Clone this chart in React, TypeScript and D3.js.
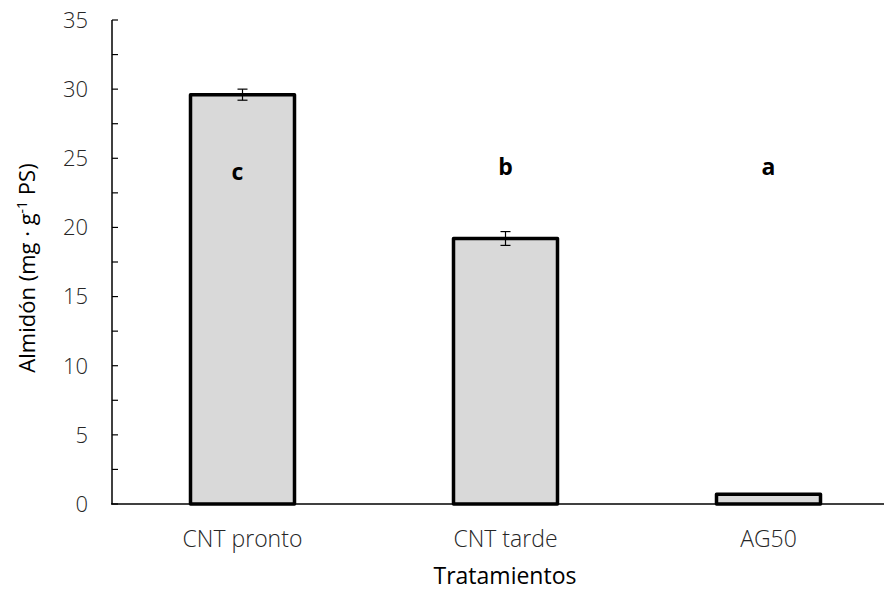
import { useEffect, useRef } from 'react'
import * as d3 from 'd3'

const categories = ['CNT pronto', 'CNT tarde', 'AG50']
const values = [29.6, 19.2, 0.7]
const errors = [0.4, 0.5, 0]
const letters = ['c', 'b', 'a']
const letterY = [24, 24.4, 24.4]
const yTicks = [0, 5, 10, 15, 20, 25, 30, 35]

export default function App() {
  const svgRef = useRef<SVGSVGElement>(null)

  useEffect(() => {
    if (!svgRef.current) return
    const svg = d3.select(svgRef.current)
    svg.selectAll('*').remove()

    const width = 884
    const height = 594
    const font = "'Open Sans', 'Noto Sans', sans-serif"

    const x = d3.scaleBand<string>().domain(categories).range([111, 900]).padding(0)
    const y = d3.scaleLinear().domain([0, 35]).range([504, 20])
    const barW = 104

    const g = svg.append('g')

    // bars
    g.selectAll('rect.bar')
      .data(values)
      .join('rect')
      .attr('class', 'bar')
      .attr('x', (d, i) => x(categories[i])! + x.bandwidth() / 2 - barW / 2)
      .attr('y', d => y(d))
      .attr('width', barW)
      .attr('height', d => y(0) - y(d))
      .attr('fill', '#d9d9d9')
      .attr('stroke', '#000')
      .attr('stroke-width', 3.5)
      .attr('stroke-linejoin', 'round')

    // error bars
    values.forEach((v, i) => {
      if (!errors[i]) return
      const cx = x(categories[i])! + x.bandwidth() / 2
      const e = g.append('g').attr('stroke', '#000').attr('stroke-width', 1.2)
      e.append('line').attr('x1', cx).attr('x2', cx).attr('y1', y(v + errors[i])).attr('y2', y(v - errors[i]))
      e.append('line').attr('x1', cx - 5).attr('x2', cx + 5).attr('y1', y(v + errors[i])).attr('y2', y(v + errors[i]))
      e.append('line').attr('x1', cx - 5).attr('x2', cx + 5).attr('y1', y(v - errors[i])).attr('y2', y(v - errors[i]))
    })

    // letters
    g.selectAll('text.letter')
      .data(letters)
      .join('text')
      .attr('class', 'letter')
      .attr('x', (d, i) => x(categories[i])! + x.bandwidth() / 2 + (i === 0 ? -5 : 0))
      .attr('y', (d, i) => y(letterY[i]))
      .attr('dy', '0.35em')
      .attr('text-anchor', 'middle')
      .attr('font-family', font)
      .attr('font-weight', 'bold')
      .attr('font-size', 23)
      .attr('fill', '#000')
      .text(d => d)

    // y axis
    g.append('line')
      .attr('x1', 112).attr('x2', 112)
      .attr('y1', y(35)).attr('y2', y(0))
      .attr('stroke', '#000').attr('stroke-width', 1.5)
    const minor = d3.range(0, 35.01, 2.5)
    g.selectAll('line.tick')
      .data(minor)
      .join('line')
      .attr('class', 'tick')
      .attr('x1', 112).attr('x2', 118)
      .attr('y1', d => y(d)).attr('y2', d => y(d))
      .attr('stroke', '#000').attr('stroke-width', 1.2)
    g.selectAll('text.ytick')
      .data(yTicks)
      .join('text')
      .attr('class', 'ytick')
      .attr('x', 88)
      .attr('y', d => y(d))
      .attr('dy', '0.36em')
      .attr('text-anchor', 'end')
      .attr('font-family', font)
      .attr('font-weight', 300)
      .attr('font-size', 22)
      .attr('fill', '#262626')
      .text(d => d)

    // x axis
    g.append('line')
      .attr('x1', 111).attr('x2', width)
      .attr('y1', y(0)).attr('y2', y(0))
      .attr('stroke', '#000').attr('stroke-width', 1.5)
    g.selectAll('text.xtick')
      .data(categories)
      .join('text')
      .attr('class', 'xtick')
      .attr('x', d => x(d)! + x.bandwidth() / 2)
      .attr('y', 547)
      .attr('text-anchor', 'middle')
      .attr('font-family', font)
      .attr('font-weight', 300)
      .attr('font-size', 23)
      .attr('fill', '#262626')
      .text(d => d)

    // titles
    svg.append('text')
      .attr('x', 505).attr('y', 584)
      .attr('text-anchor', 'middle')
      .attr('font-family', font)
      .attr('font-size', 23)
      .attr('fill', '#000')
      .text('Tratamientos')

    const yt = svg.append('text')
      .attr('transform', `translate(35, 268) rotate(-90)`)
      .attr('text-anchor', 'middle')
      .attr('font-family', font)
      .attr('font-size', 22)
      .attr('fill', '#000')
    yt.append('tspan').text('Almidón (mg · g')
    yt.append('tspan').attr('dy', -8).attr('font-size', 14).text('-1')
    yt.append('tspan').attr('dy', 8).text(' PS)')

    svg.attr('width', width).attr('height', height)
  }, [])

  return (
    <div style={{ position: 'absolute', left: 0, top: 0, width: 884, height: 594, background: '#fff' }}>
      <svg ref={svgRef} width={884} height={594} style={{ display: 'block' }} />
    </div>
  )
}
